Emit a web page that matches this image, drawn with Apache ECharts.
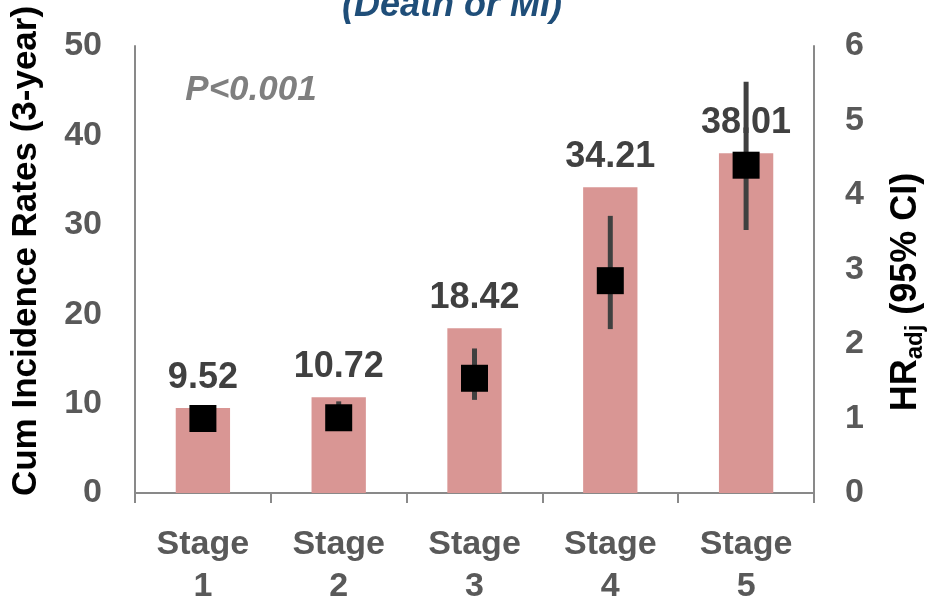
<!DOCTYPE html>
<html>
<head>
<meta charset="utf-8">
<script src="https://cdn.jsdelivr.net/npm/echarts@6/dist/echarts.min.js"></script>
<style>
  html, body { margin: 0; padding: 0; background: #fff; }
  #chart { width: 929px; height: 604px; }
</style>
</head>
<body>
<div id="chart"></div>
<script>
// Stages along the x axis
var stages = ['Stage\n1', 'Stage\n2', 'Stage\n3', 'Stage\n4', 'Stage\n5'];
// 3-year cumulative incidence rates (%)
var cumRates = [9.52, 10.72, 18.42, 34.21, 38.01];
// Adjusted hazard ratios with 95% confidence limits
var hrAdj = [1.0, 1.01, 1.54, 2.85, 4.40];
var hrLow = [1.0, 0.85, 1.25, 2.20, 3.53];
var hrHigh = [1.0, 1.23, 1.94, 3.72, 5.52];
// Axis tick values
var leftTicks = [0, 10, 20, 30, 40, 50];
var rightTicks = [0, 1, 2, 3, 4, 5, 6];

var FONT = '"Liberation Sans", Arial, sans-serif';
var AXIS_GRAY = '#898989';
var LABEL_GRAY = '#595959';

var chart = echarts.init(document.getElementById('chart'));

var ciData = stages.map(function (s, i) { return [i, hrLow[i], hrHigh[i]]; });

chart.setOption({
  animation: false,
  backgroundColor: '#ffffff',
  textStyle: { fontFamily: FONT },
  grid: { left: 135, right: 115, top: 46, bottom: 111, outerBoundsMode: 'none', containLabel: false },
  graphic: [
    {
      type: 'text', z: 10,
      position: [452, 6],
      style: {
        text: '(Death or MI)',
        fill: '#1f4e79', font: 'italic bold 36px ' + FONT,
        textAlign: 'center', textVerticalAlign: 'middle'
      }
    },
    {
      type: 'text', z: 10,
      position: [251, 90],
      style: {
        text: 'P<0.001',
        fill: '#7f7f7f', font: 'italic bold 35px ' + FONT,
        textAlign: 'center', textVerticalAlign: 'middle'
      }
    },
    {
      type: 'text', z: 10,
      position: [26, 251], rotation: Math.PI / 2,
      style: {
        text: 'Cum Incidence Rates (3-year)',
        fill: '#000000', font: 'bold 35px ' + FONT,
        textAlign: 'center', textVerticalAlign: 'middle'
      }
    },
    {
      type: 'text', z: 10,
      position: [906, 292], rotation: Math.PI / 2,
      style: {
        text: '{m|HR}{s|adj}{m| (95% CI)}',
        textAlign: 'center', textVerticalAlign: 'middle',
        rich: {
          m: { fontFamily: FONT, fontWeight: 'bold', fontSize: 36, fill: '#000', color: '#000', lineHeight: 42 },
          s: { fontFamily: FONT, fontWeight: 'bold', fontSize: 24, fill: '#000', color: '#000', lineHeight: 42, verticalAlign: 'bottom', padding: [15, 0, 0, 0] }
        }
      }
    }
  ],
  xAxis: {
    type: 'category',
    data: stages,
    boundaryGap: true,
    axisLine: { lineStyle: { color: AXIS_GRAY, width: 2 } },
    axisTick: { show: true, length: 10, lineStyle: { color: AXIS_GRAY, width: 2 } },
    axisLabel: {
      margin: 31, color: LABEL_GRAY, fontSize: 34, fontWeight: 'bold',
      lineHeight: 42, fontFamily: FONT, interval: 0
    }
  },
  yAxis: [
    {
      type: 'value', min: leftTicks[0], max: leftTicks[leftTicks.length - 1], interval: 10,
      splitLine: { show: false },
      axisLine: { show: true, lineStyle: { color: AXIS_GRAY, width: 2 } },
      axisTick: { show: false },
      axisLabel: { margin: 33, color: LABEL_GRAY, fontSize: 34, fontWeight: 'bold', fontFamily: FONT }
    },
    {
      type: 'value', min: rightTicks[0], max: rightTicks[rightTicks.length - 1], interval: 1,
      position: 'right',
      splitLine: { show: false },
      axisLine: { show: true, lineStyle: { color: AXIS_GRAY, width: 2 } },
      axisTick: { show: false },
      axisLabel: { margin: 31, color: LABEL_GRAY, fontSize: 34, fontWeight: 'bold', fontFamily: FONT }
    }
  ],
  series: [
    {
      name: 'Cum incidence',
      type: 'bar',
      data: cumRates,
      barWidth: '40%',
      itemStyle: { color: '#d99694' },
      label: {
        show: true, position: 'top', distance: 10,
        color: '#404040', fontSize: 36, fontWeight: 'bold', fontFamily: FONT,
        lineHeight: 40,
        formatter: function (p) { return p.value.toFixed(2); }
      },
      z: 2
    },
    {
      name: '95% CI',
      type: 'custom',
      yAxisIndex: 1,
      data: ciData,
      z: 3,
      renderItem: function (params, api) {
        var x = api.value(0);
        var lo = api.coord([x, api.value(1)]);
        var hi = api.coord([x, api.value(2)]);
        return {
          type: 'line',
          shape: { x1: lo[0], y1: lo[1], x2: hi[0], y2: hi[1] },
          style: { stroke: '#404040', lineWidth: 5 }
        };
      }
    },
    {
      name: 'HR adj',
      type: 'scatter',
      yAxisIndex: 1,
      data: hrAdj,
      symbol: 'rect',
      symbolSize: 27,
      itemStyle: { color: '#000000', opacity: 1 },
      z: 4
    }
  ]
});
</script>
</body>
</html>
